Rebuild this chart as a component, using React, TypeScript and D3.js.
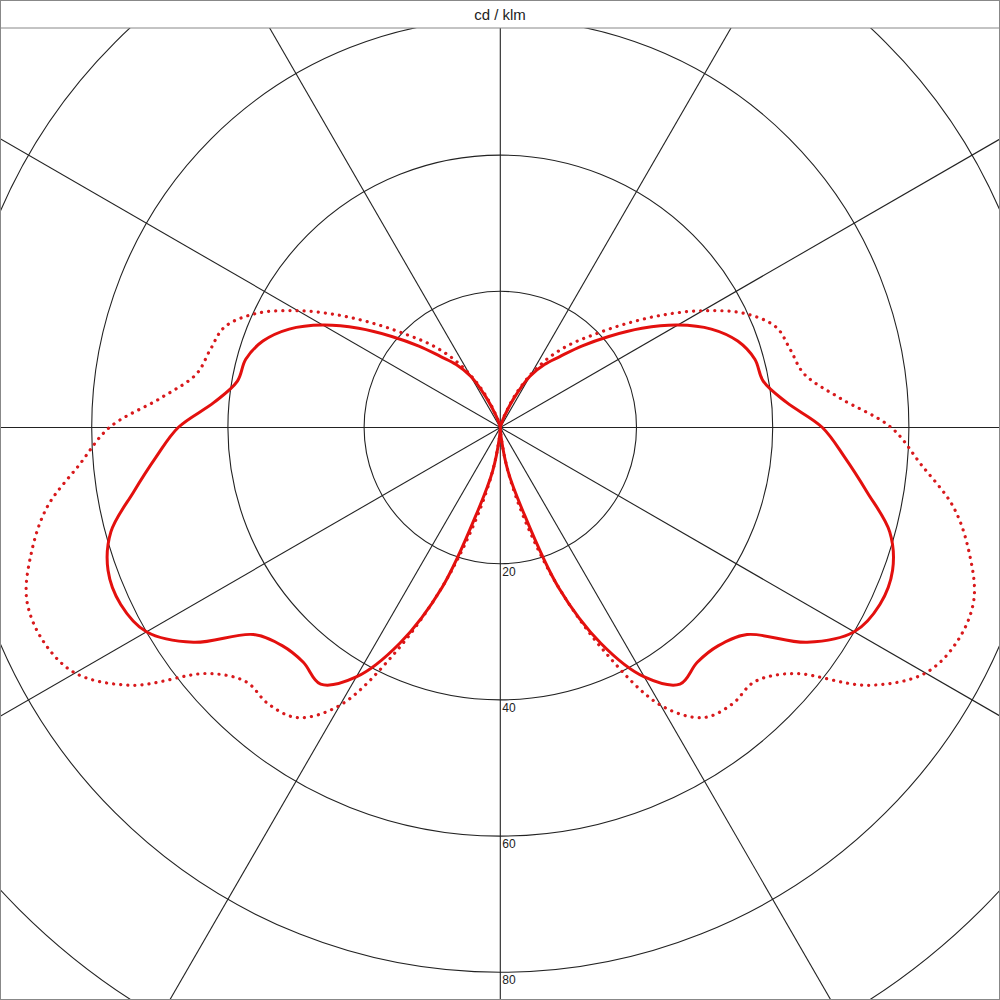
import React from 'react';
import * as d3 from 'd3';

// gamma angles (deg from nadir) and intensity readings in cd/klm
const gammas = [0, 5, 10, 15, 20, 25, 30, 35, 40, 45, 50, 55, 60, 65, 70, 75, 80, 85, 90,
    95, 100, 105, 110, 115, 120, 125, 130, 135, 140, 145, 150, 155, 160, 165, 170, 175, 180];

// C0 / C180 plane (solid)
const planeC0 = [0, 1.5, 6.5, 12.5, 25, 35, 42.3, 46, 45, 45.3, 47.3, 55, 60, 61.5, 61.3, 59.2, 54.7, 50.8, 47.3,
    42.2, 39.2, 38.7, 37.1, 34.2, 30.1, 25.4, 20.8, 16.9, 13.6, 11.3, 8.7, 4.8, 1.8, 0.5, 0.2, 0, 0];

// C90 / C270 plane (dotted)
const planeC90 = [0, 1.5, 6.5, 14.3, 24.9, 36.4, 47.1, 52, 53, 52.8, 56.2, 66, 72.1, 74.1, 74, 71.3, 67.6, 62, 57.4,
    50, 45.3, 44.1, 43.1, 39.6, 34.3, 28.7, 23.5, 19.2, 15.9, 12.6, 9.1, 5.5, 2.2, 0.8, 0.2, 0, 0];

const ringValues = [20, 40, 60, 80, 100];
const ringLabels = ['20', '40', '60', '80'];
const spokeAngles = [0, 30, 60, 90, 120, 150];
const unitLabel = 'cd / klm';

const W = 1000;
const H = 1000;
const headerH = 28;
const cx = 500.3;
const cy = 427.5;

const App = () => {
    const r = d3.scaleLinear().domain([0, 20]).range([0, 136.2]);
    const rad = (deg: number) => (deg * Math.PI) / 180;

    // build a closed path: right half (C0 / C90), then mirrored left half (C180 / C270)
    const buildPath = (values: number[]) => {
        const pts: [number, number][] = [];
        gammas.forEach((g, i) => pts.push([Math.PI - rad(g), r(values[i])]));
        for (let i = gammas.length - 1; i >= 0; i--) pts.push([Math.PI + rad(gammas[i]), r(values[i])]);
        const line = d3.lineRadial<[number, number]>()
            .angle(d => d[0])
            .radius(d => d[1])
            .curve(d3.curveCatmullRom.alpha(0.5));
        return line(pts) ?? '';
    };

    const spokeLen = 1500;

    return (
        <svg width={W} height={H} style={{ position: 'absolute', left: 0, top: 0, background: '#fff' }}
            fontFamily="'Liberation Sans', Arial, sans-serif">
            <defs>
                <clipPath id="plotClip">
                    <rect x={0} y={headerH} width={W} height={H - headerH} />
                </clipPath>
            </defs>
            <rect x={0} y={0} width={W} height={H} fill="#fff" />

            <g clipPath="url(#plotClip)">
                <g transform={`translate(${cx},${cy})`}>
                    {ringValues.map(v => (
                        <circle key={v} r={r(v)} fill="none" stroke="#222" strokeWidth={1.1} />
                    ))}
                    {spokeAngles.map(a => (
                        <line key={a}
                            x1={-spokeLen * Math.sin(rad(a))} y1={spokeLen * Math.cos(rad(a))}
                            x2={spokeLen * Math.sin(rad(a))} y2={-spokeLen * Math.cos(rad(a))}
                            stroke="#222" strokeWidth={1.1} />
                    ))}
                    {ringLabels.map((t, i) => (
                        <text key={t} x={2} y={r(ringValues[i]) + 12} fontSize={12} fill="#222">{t}</text>
                    ))}
                    <path d={buildPath(planeC90)} fill="none" stroke="#d8191c" strokeWidth={3.2}
                        strokeDasharray="0.1 7" strokeLinecap="round" />
                    <path d={buildPath(planeC0)} fill="none" stroke="#e3100e" strokeWidth={3}
                        strokeLinejoin="round" />
                </g>
            </g>

            <line x1={0} y1={headerH} x2={W} y2={headerH} stroke="#888" strokeWidth={1} />
            <text x={W / 2} y={20} textAnchor="middle" fontSize={15} fill="#222">{unitLabel}</text>
            <rect x={0.5} y={0.5} width={W - 1} height={H - 1} fill="none" stroke="#888" strokeWidth={1} />
        </svg>
    );
};

export default App;
